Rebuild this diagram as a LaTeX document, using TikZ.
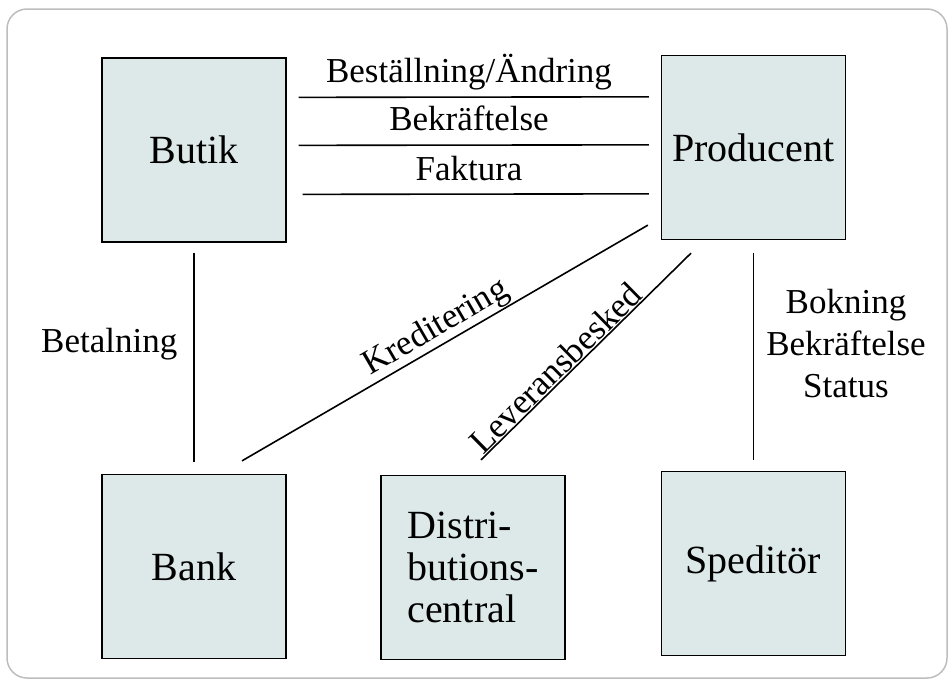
\documentclass[tikz,border=0pt]{standalone}
\usepackage{fontspec}
\setmainfont{Liberation Serif}
\newfontfamily\boxfont{Liberation Serif}
\usetikzlibrary{calc}
\definecolor{boxfill}{HTML}{DDE9E9}
\definecolor{framegray}{HTML}{BDBDBD}
\tikzset{
  box/.style={draw, line width=1.3pt, fill=boxfill, minimum width=184pt, minimum height=184pt, inner sep=0pt, font=\boxfont\fontsize{40}{42}\selectfont},
  link/.style={line width=1.6pt},
  lab/.style={font=\rmfamily\fontsize{35}{42}\selectfont, inner sep=1pt},
}
\begin{document}
\begin{tikzpicture}[x={(1pt,0)}, y={(0,-1pt)}]
\useasboundingbox (0,0) rectangle (952,683);
\draw[framegray, line width=1.5pt, rounded corners=20pt] (7,9) rectangle (947,678);

\node[box] (butik) at (194,150) {Butik};
\node[box] (prod) at (753.5,147.5) {Producent};
\node[box] (bank) at (194,566.5) {Bank};
\node[box, align=left] (dist) at (473,567.5) {Distri-\\butions-\\central};
\node[box] (sped) at (753.5,563.5) {Speditör};

% horizontal connectors
\draw[link] ($(butik.north east)+(12,40)$) -- ($(prod.north west)+(-12,42)$);
\draw[link] ($(butik.north east)+(12,88)$) -- ($(prod.north west)+(-12,90)$);
\draw[link] ($(butik.north east)+(16,137)$) -- ($(prod.north west)+(-12,139)$);
\node[lab, anchor=base] (l1) at (469,82) {Beställning/Ändring};
\node[lab, anchor=base] (l2) at (469,130) {Bekräftelse};
\node[lab, anchor=base] (l3) at (469,180) {Faktura};

% verticals
\draw[link] ($(butik.south)+(0,10)$) -- ($(bank.north)+(0,-12)$);
\node[lab, anchor=base west] (betal) at (40,352) {Betalning};
\draw[link] ($(prod.south)+(0,13)$) -- ($(sped.north)+(0,-11)$);
\node[lab, anchor=base] (b1) at (846,313) {Bokning};
\node[lab, anchor=base] (b2) at (846,355) {Bekräftelse};
\node[lab, anchor=base] (b3) at (846,397) {Status};

% diagonals
\draw[link] ($(prod.south west)+(-13,-15)$) -- ($(bank.north)+(48,-13)$)
  node[lab, pos=0.50, sloped, above, inner sep=0.5pt] (kred) {Kreditering};
\draw[link] ($(prod.south)+(-62.5,13)$) -- ($(dist.north)+(8,-15)$)
  node[lab, pos=0.60, sloped, above, inner sep=0.5pt] (lev) {Leveransbesked};
\end{tikzpicture}
\end{document}
